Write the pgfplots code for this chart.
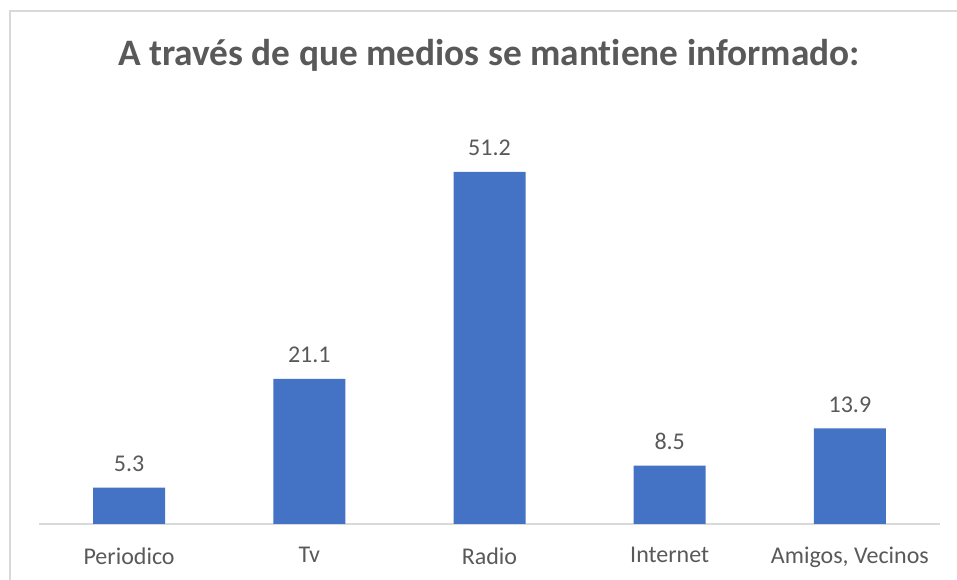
\documentclass[border=0pt]{standalone}
\usepackage{pgfplots}
\pgfplotsset{compat=1.18}
\usepackage{fontspec}
\setmainfont[Ligatures=NoCommon]{Carlito}
\definecolor{barblue}{HTML}{4472C4}
\definecolor{txt}{HTML}{595959}
\definecolor{gridc}{HTML}{D9D9D9}
\begin{document}
\begin{tikzpicture}
\path[use as bounding box] (0pt,0pt) rectangle (717.75pt,435pt);
\draw[gridc, line width=0.9pt] (7.5pt,0pt) -- (7.5pt,426.75pt) -- (717.75pt,426.75pt);
\node[font=\fontsize{28}{32}\selectfont\bfseries, text=txt] at (366.75pt,393.75pt) {A través de que medios se mantiene informado:};
\begin{axis}[
  at={(29.25pt,42pt)}, anchor=south west,
  scale only axis, width=675.75pt, height=309.375pt,
  xmin=-0.5, xmax=4.5, ymin=0, ymax=60,
  axis x line*=bottom, axis y line=none,
  x axis line style={gridc, line width=1pt},
  xtick=data, xticklabels={Periodico,Tv,Radio,Internet,{Amigos, Vecinos}},
  major tick length=0pt,
  xticklabel style={font=\fontsize{18}{21}\selectfont, text=txt, yshift=-14pt},
  ybar, bar width=54pt,
  nodes near coords,
  nodes near coords style={font=\fontsize{18}{21}\selectfont, text=txt, yshift=8.5pt},
  /pgf/number format/.cd, fixed, fixed zerofill, precision=1, assume math mode=true,
]
\addplot[fill=barblue, draw=none] coordinates {(0,5.3) (1,21.1) (2,51.2) (3,8.5) (4,13.9)};
\end{axis}
\end{tikzpicture}
\end{document}
